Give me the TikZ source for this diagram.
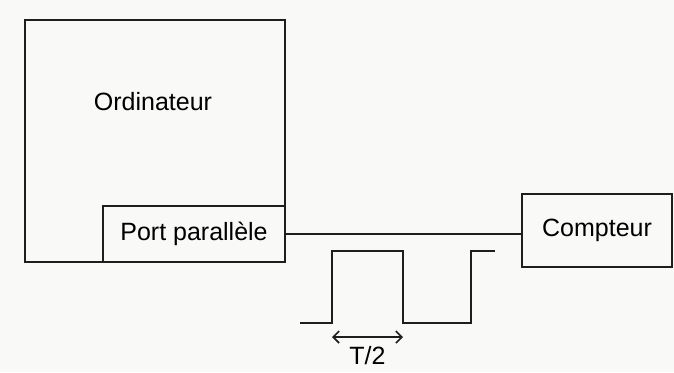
\documentclass[tikz,border=0pt]{standalone}
\usepackage{fontspec}
\setmainfont{Liberation Sans}
\usetikzlibrary{arrows.meta, positioning, calc}
\definecolor{fond}{HTML}{F9FAF7}
\definecolor{trait}{HTML}{1E1E1E}
\tikzset{
  boite/.style={draw=trait, line width=1pt, inner sep=0pt, font=\fontsize{12.5}{15}\selectfont},
  signal/.style={draw=trait, line width=1pt},
}

\begin{document}
\begin{tikzpicture}[x=0.5pt, y=-0.5pt]
\useasboundingbox [fill=fond] (0,0) rectangle (674,372);
\node [boite, minimum width=130pt, minimum height=121pt] (ordi) at (155,141) {};
\node [font=\fontsize{12.5}{15}\selectfont] (ordilabel) at (153,102) {Ordinateur};
\node [boite, minimum width=91pt, minimum height=28pt] (port) at (194,234) {Port parall\`ele};
\node [boite, minimum width=75pt, minimum height=36.5pt] (compteur) at (597,230.5) {Compteur};
\draw [signal] (port.east) -- (port.east -| compteur.west);
% signal carre
\draw [signal] (300,323) -- (332,323) -- (332,251) -- (403,251) -- (403,323)
               -- (471,323) -- (471,251) -- (495,251);
\coordinate (debut) at (332,337);
\coordinate (fin) at (403,337);
\draw [signal, line width=0.8pt, {Straight Barb[length=3pt,width=6pt]}-{Straight Barb[length=3pt,width=6pt]}] (debut) -- (fin);
\node [font=\fontsize{12.5}{15}\selectfont, below=1pt of $(debut)!0.5!(fin)$] (demi) {T/2};
\end{tikzpicture}
\end{document}
